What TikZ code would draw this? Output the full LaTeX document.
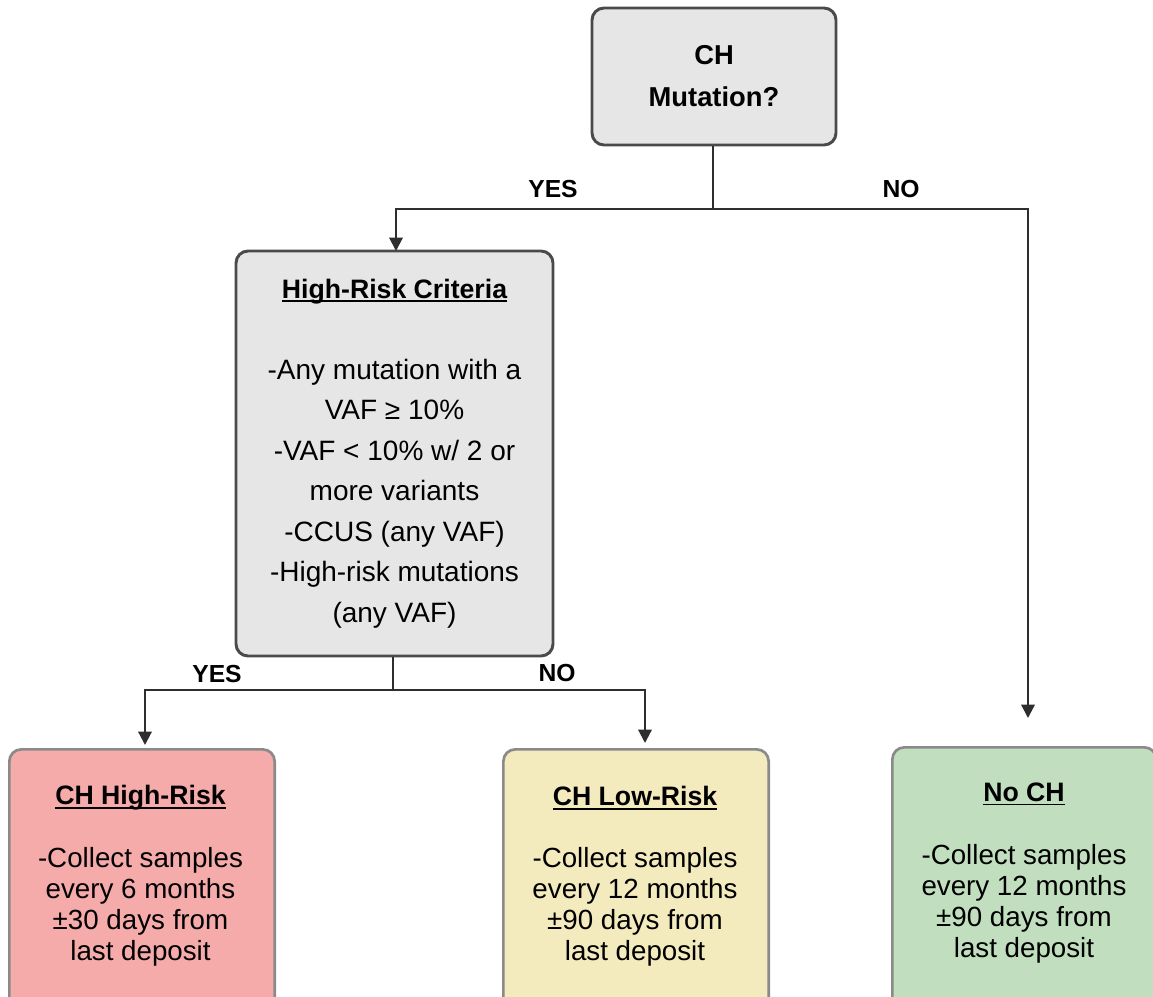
\documentclass[tikz,border=0pt]{standalone}
\usepackage{fontspec}
\setmainfont{Liberation Sans}
\usetikzlibrary{arrows.meta}
\definecolor{gboxf}{HTML}{E6E6E6}
\definecolor{gboxl}{HTML}{4A4A4A}
\definecolor{pinkf}{HTML}{F6ABAB}
\definecolor{yelf}{HTML}{F3EBBE}
\definecolor{grnf}{HTML}{C1DFBF}
\definecolor{bboxl}{HTML}{8A8A8A}
\definecolor{connc}{HTML}{2E2E2E}
\newcommand\ulx[1]{\setbox0\hbox{#1}\rlap{\rule[-3pt]{\wd0}{1.3pt}}\box0}
\tikzset{
  topbox/.style={draw=gboxl, fill=gboxf, line width=2.2pt, rounded corners=9pt, inner sep=0pt},
  botbox/.style={draw=bboxl, line width=2pt, rounded corners=9pt, inner sep=0pt, anchor=north west,
                 minimum width=199pt, minimum height=205pt},
  conn/.style={draw=connc, line width=1.6pt},
  arr/.style={conn, -{Triangle[length=10pt,width=10pt]}},
  lbl/.style={font=\bfseries\fontsize{18.5}{22}\selectfont, inner sep=0pt},
  ttl/.style={font=\bfseries\fontsize{20}{24}\selectfont, inner sep=0pt},
  body/.style={align=center, font=\fontsize{20.8}{23.25}\selectfont, inner sep=0pt},
}
\begin{document}
\begin{tikzpicture}[x=0.75pt,y=-0.75pt]
\useasboundingbox (0,0) rectangle (1153,996);
\clip (0,0) rectangle (1153,996);

% top decision box
\node[topbox, minimum width=183pt, minimum height=102.75pt, align=center,
      font=\bfseries\fontsize{20.5}{31.5}\selectfont] (mut) at (714,76.5) {CH\\Mutation?};

% high-risk criteria box
\node[topbox, minimum width=237.75pt, minimum height=303.75pt, align=center,
      font=\fontsize{21}{30.4}\selectfont] (hrc) at (394.5,453.5)
  {\ulx{\bfseries\fontsize{20}{30.4}\selectfont High-Risk Criteria}\\[30.4pt]
   -Any mutation with a\\ VAF ≥ 10\%\\ -VAF < 10\% w/ 2 or\\ more variants\\
   -CCUS (any VAF)\\ -High-risk mutations\\ (any VAF)};

% outcome boxes
\node[botbox, fill=pinkf] (high) at (8,748) {};
\node[botbox, fill=yelf] (low) at (502,748) {};
\node[botbox, fill=grnf, minimum width=198pt] (noch) at (891,746) {};

\node[ttl] (hight) at (140.5,798) {\ulx{CH High-Risk}};
\node[body] (highb) at (140.5,907) {-Collect samples\\every 6 months\\±30 days from\\last deposit};
\node[ttl] (lowt) at (635,798) {\ulx{CH Low-Risk}};
\node[body] (lowb) at (635,907) {-Collect samples\\every 12 months\\±90 days from\\last deposit};
\node[ttl] (nocht) at (1024,794) {\ulx{No CH}};
\node[body] (nochb) at (1024,904) {-Collect samples\\every 12 months\\±90 days from\\last deposit};

% connectors
\coordinate (j1) at (713,209);
\coordinate (a1) at (396,251);
\coordinate (a2) at (1028,718);
\coordinate (j2) at (393,690);
\coordinate (a3) at (145,745);
\coordinate (a4) at (645,743);

\draw[conn] (mut.south -| j1) -- (j1);
\draw[arr] (j1) -| (a1);
\draw[arr] (j1) -| (a2);
\draw[conn] (hrc.south -| j2) -- (j2);
\draw[arr] (j2) -| (a3);
\draw[arr] (j2) -| (a4);

\node[lbl] (y1) at (553,189) {YES};
\node[lbl] (n1) at (901,189) {NO};
\node[lbl] (y2) at (217,674) {YES};
\node[lbl] (n2) at (557,673) {NO};
\end{tikzpicture}
\end{document}
